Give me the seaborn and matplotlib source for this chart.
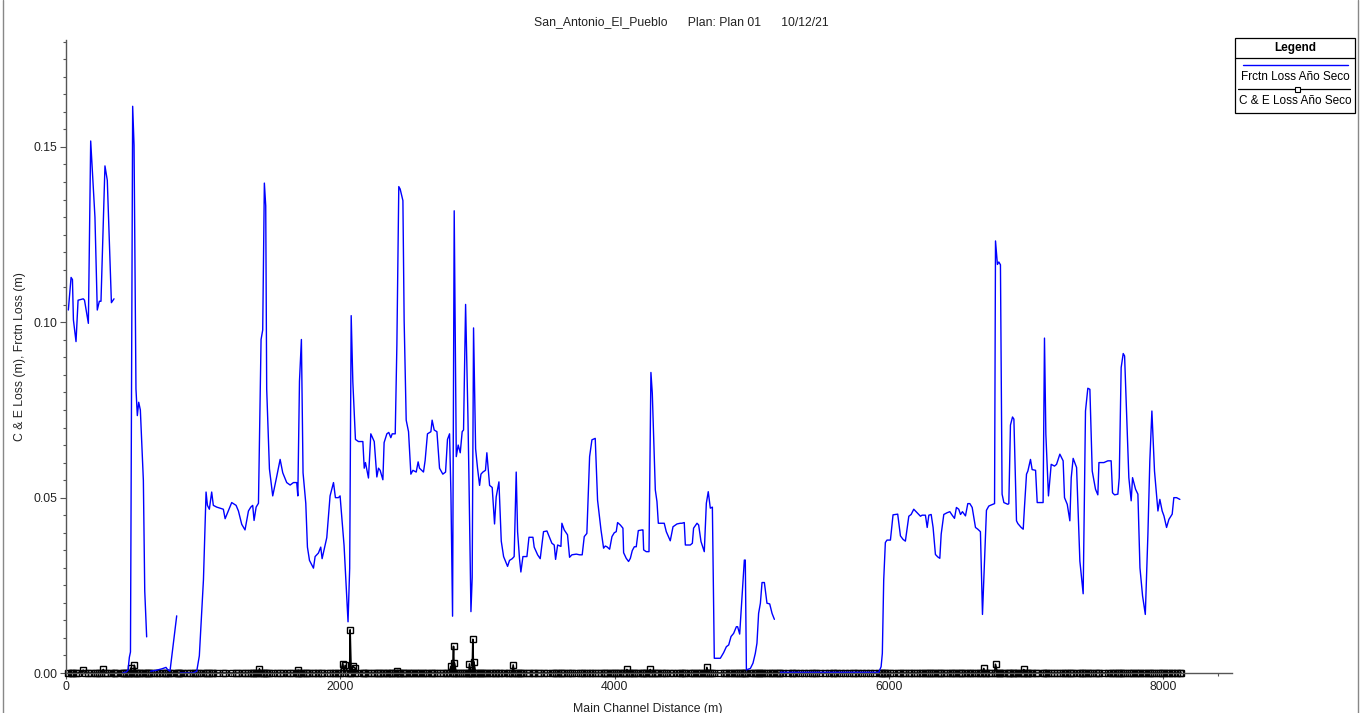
import numpy as np
import pandas as pd
import seaborn as sns
import matplotlib.pyplot as plt
from matplotlib.lines import Line2D
from matplotlib.patches import Rectangle
from matplotlib.ticker import MultipleLocator, FormatStrFormatter

# HEC-RAS style profile plot: friction loss and contraction/expansion loss
# along the main channel (San_Antonio_El_Pueblo, Plan 01)

sns.set_style("ticks")
plt.rcParams["font.family"] = ["Liberation Sans", "DejaVu Sans"]

TITLE = "San_Antonio_El_Pueblo      Plan: Plan 01      10/12/21"
X_LABEL = "Main Channel Distance (m)"
Y_LABEL = "C & E Loss (m), Frctn Loss (m)"
LEGEND_TITLE = "Legend"
FRCTN_NAME = "Frctn Loss Año Seco"
CE_NAME = "C & E Loss Año Seco"

# ---- Frctn Loss (the line has gaps between segments)
frctn_x_1 = [17, 37, 47, 54, 73, 88, 126, 135, 163, 180, 211, 228, 243, 255, 284, 301, 331, 350]
frctn_y_1 = [0.1035, 0.1128, 0.1122, 0.1007, 0.0945, 0.1063, 0.1067, 0.1063, 0.0997, 0.1517,
             0.1300, 0.1035, 0.1060, 0.1060, 0.1446, 0.1405, 0.1056, 0.1067]

frctn_x_2 = [413, 440, 452, 462, 470, 486, 496, 510, 520, 530, 542, 564, 574, 588]
frctn_y_2 = [0.0, 0.0003, 0.0008, 0.0045, 0.0060, 0.1616, 0.1505, 0.0810, 0.0734, 0.0772,
             0.0750, 0.0549, 0.0234, 0.0103]

frctn_x_3 = [617, 660, 700, 729, 740, 758, 807]
frctn_y_3 = [0.0005, 0.0008, 0.0012, 0.0016, 0.0010, 0.0005, 0.0163]

frctn_x_4 = [832, 880, 925, 953, 972, 1002, 1021, 1031, 1045, 1062, 1074, 1099, 1147, 1160, 1208,
             1240, 1257, 1281, 1305, 1330, 1347, 1361, 1371, 1386, 1403, 1422, 1434, 1446, 1456,
             1463, 1483, 1507, 1536, 1561, 1580, 1609, 1634, 1658, 1682, 1690, 1702, 1716, 1728,
             1748, 1760, 1775, 1804, 1816, 1840, 1857, 1867, 1901, 1925, 1950, 1964, 1986, 1998,
             2027, 2056, 2068, 2079, 2091, 2110, 2132, 2164, 2174, 2183, 2205, 2222, 2247, 2266,
             2278, 2290, 2310, 2319, 2339, 2353, 2368, 2378, 2400, 2412, 2426, 2436, 2456, 2465,
             2480, 2497, 2514, 2529, 2553, 2567, 2577, 2606, 2618, 2635, 2660, 2669, 2684, 2704,
             2723, 2747, 2767, 2781, 2796, 2806, 2818, 2830, 2845, 2859, 2874, 2888, 2898, 2913,
             2930, 2937, 2952, 2961, 2971, 2986, 3000, 3015, 3025, 3039, 3058, 3068, 3088, 3107,
             3124, 3136, 3156, 3173, 3190, 3219, 3233, 3253, 3267, 3282, 3292, 3306, 3316, 3331,
             3360, 3375, 3404, 3413, 3438, 3457, 3481, 3506, 3542, 3559, 3569, 3584, 3608, 3615,
             3632, 3656, 3671, 3688, 3720, 3744, 3763, 3778, 3797, 3817, 3834, 3858, 3875, 3900,
             3919, 3931, 3943, 3963, 3980, 3997, 4011, 4021, 4041, 4060, 4065, 4084, 4101, 4114,
             4128, 4143, 4157, 4172, 4199, 4206, 4211, 4230, 4250, 4264, 4274, 4296, 4308, 4318,
             4344, 4361, 4376, 4405, 4425, 4454, 4478, 4490, 4507, 4515, 4551, 4566, 4575, 4600,
             4612, 4629, 4653, 4668, 4682, 4697, 4712, 4726, 4770, 4794, 4814, 4831, 4848, 4867,
             4887, 4896, 4911, 4928, 4945, 4952, 4960, 4989, 5008, 5025, 5037, 5049, 5062, 5074,
             5091, 5110, 5130, 5147, 5164]
frctn_y_4 = [0.0, 0.0, 0.0, 0.0005, 0.0049, 0.0266, 0.0516, 0.0478, 0.0467, 0.0516, 0.0478, 0.0473,
             0.0467, 0.0440, 0.0486, 0.0478, 0.0462, 0.0424, 0.0408, 0.0462, 0.0473, 0.0478,
             0.0435, 0.0473, 0.0484, 0.0951, 0.0978, 0.1397, 0.1332, 0.0810, 0.0582, 0.0505,
             0.0560, 0.0609, 0.0571, 0.0543, 0.0536, 0.0543, 0.0543, 0.0505, 0.0832, 0.0951,
             0.0571, 0.0484, 0.0359, 0.0321, 0.0299, 0.0332, 0.0342, 0.0359, 0.0326, 0.0386,
             0.0505, 0.0543, 0.0500, 0.0500, 0.0505, 0.0364, 0.0146, 0.0299, 0.1019, 0.0830,
             0.0666, 0.0660, 0.0660, 0.0584, 0.0600, 0.0556, 0.0682, 0.0660, 0.0559, 0.0584,
             0.0578, 0.0551, 0.0657, 0.0682, 0.0686, 0.0671, 0.0682, 0.0682, 0.0934, 0.1387,
             0.1380, 0.1347, 0.1005, 0.0721, 0.0688, 0.0567, 0.0578, 0.0573, 0.0602, 0.0584,
             0.0573, 0.0606, 0.0682, 0.0688, 0.0721, 0.0693, 0.0688, 0.0584, 0.0567, 0.0573,
             0.0666, 0.0682, 0.0513, 0.0162, 0.1318, 0.0617, 0.0650, 0.0628, 0.0688, 0.0693,
             0.1051, 0.0732, 0.0567, 0.0175, 0.0272, 0.0984, 0.0639, 0.0584, 0.0535, 0.0567,
             0.0573, 0.0578, 0.0628, 0.0535, 0.0529, 0.0425, 0.0502, 0.0545, 0.0376, 0.0332,
             0.0304, 0.0321, 0.0326, 0.0332, 0.0573, 0.0403, 0.0326, 0.0288, 0.0332, 0.0332,
             0.0387, 0.0387, 0.0359, 0.0337, 0.0326, 0.0403, 0.0405, 0.0370, 0.0365, 0.0324,
             0.0365, 0.0361, 0.0427, 0.0408, 0.0394, 0.0330, 0.0337, 0.0339, 0.0337, 0.0337,
             0.0389, 0.0398, 0.0617, 0.0665, 0.0669, 0.0493, 0.0408, 0.0356, 0.0362, 0.0360,
             0.0353, 0.0389, 0.0400, 0.0403, 0.0429, 0.0422, 0.0413, 0.0343, 0.0327, 0.0318,
             0.0327, 0.0349, 0.0360, 0.0360, 0.0406, 0.0408, 0.0408, 0.0351, 0.0346, 0.0346,
             0.0857, 0.0798, 0.0522, 0.0489, 0.0427, 0.0427, 0.0427, 0.0403, 0.0377, 0.0417,
             0.0425, 0.0427, 0.0427, 0.0429, 0.0365, 0.0365, 0.0370, 0.0413, 0.0427, 0.0422,
             0.0375, 0.0346, 0.0484, 0.0517, 0.0470, 0.0473, 0.0042, 0.0042, 0.0058, 0.0075,
             0.0080, 0.0104, 0.0113, 0.0132, 0.0132, 0.0111, 0.0218, 0.0322, 0.0322, 0.0009,
             0.0013, 0.0028, 0.0056, 0.0085, 0.0170, 0.0199, 0.0258, 0.0258, 0.0199, 0.0197,
             0.0170, 0.0153]

frctn_x_5 = [5207, 5300, 5450, 5600, 5750, 5925, 5942, 5951, 5961, 5973, 5985, 6010, 6029, 6063,
             6083, 6102, 6119, 6144, 6161, 6180, 6205, 6229, 6241, 6265, 6278, 6290, 6307, 6321,
             6338, 6355, 6370, 6380, 6399, 6423, 6443, 6460, 6477, 6491, 6508, 6521, 6535, 6557,
             6574, 6589, 6606, 6630, 6647, 6666, 6681, 6696, 6710, 6727, 6744, 6769, 6776, 6790,
             6800, 6812, 6824, 6837, 6866, 6873, 6885, 6900, 6910, 6929, 6939, 6963, 6978, 6987,
             7002, 7012, 7031, 7043, 7068, 7080, 7123, 7133, 7143, 7162, 7182, 7206, 7221, 7245,
             7269, 7279, 7299, 7318, 7328, 7342, 7367, 7391, 7408, 7415, 7432, 7449, 7464, 7481,
             7505, 7522, 7530, 7566, 7595, 7619, 7629, 7644, 7668, 7678, 7692, 7707, 7717, 7748,
             7765, 7775, 7797, 7814, 7829, 7848, 7868, 7887, 7901, 7916, 7935, 7960, 7974, 7991,
             8004, 8023, 8040, 8064, 8076, 8096, 8120]
frctn_y_5 = [0.0002, 0.0002, 0.0002, 0.0002, 0.0002, 0.0002, 0.0018, 0.0056, 0.0265, 0.0372,
             0.0379, 0.0379, 0.0451, 0.0453, 0.0391, 0.0381, 0.0376, 0.0447, 0.0452, 0.0467,
             0.0457, 0.0447, 0.0450, 0.0450, 0.0415, 0.0450, 0.0452, 0.0415, 0.0338, 0.0331,
             0.0327, 0.0396, 0.0452, 0.0457, 0.0460, 0.0450, 0.0441, 0.0472, 0.0467, 0.0452,
             0.0460, 0.0448, 0.0483, 0.0483, 0.0472, 0.0415, 0.0410, 0.0403, 0.0167, 0.0319,
             0.0464, 0.0476, 0.0479, 0.0483, 0.1232, 0.1165, 0.1172, 0.1164, 0.0510, 0.0486,
             0.0481, 0.0483, 0.0707, 0.0730, 0.0724, 0.0434, 0.0426, 0.0415, 0.0410, 0.0472,
             0.0567, 0.0576, 0.0609, 0.0580, 0.0578, 0.0486, 0.0486, 0.0955, 0.0681, 0.0505,
             0.0595, 0.0590, 0.0595, 0.0624, 0.0605, 0.0500, 0.0481, 0.0434, 0.0557, 0.0612,
             0.0586, 0.0319, 0.0253, 0.0226, 0.0747, 0.0812, 0.0809, 0.0576, 0.0524, 0.0508,
             0.0600, 0.0600, 0.0605, 0.0605, 0.0514, 0.0508, 0.0510, 0.0557, 0.0871, 0.0911,
             0.0904, 0.0557, 0.0491, 0.0557, 0.0524, 0.0510, 0.0300, 0.0220, 0.0167, 0.0396,
             0.0605, 0.0747, 0.0576, 0.0462, 0.0495, 0.0462, 0.0448, 0.0415, 0.0438, 0.0453,
             0.0500, 0.0500, 0.0495]

# ---- C & E Loss: ~0 at every cross section, a few small peaks
ce_extra_station = [360, 366, 406, 425, 595, 605, 640, 680, 720, 780, 815, 825, 855, 905, 940,
                    5180, 5195, 5230, 5260, 5290, 5320, 5350, 5380, 5410, 5440, 5470, 5500, 5530,
                    5560, 5590, 5620, 5650, 5680, 5710, 5740, 5770, 5800, 5830, 5860, 5890, 8130]
ce_peak_station = [126, 272, 472, 498, 1410, 1692, 2018, 2035, 2071, 2091, 2108, 2414, 2806,
                   2825, 2832, 2941, 2966, 2973, 3260, 4089, 4259, 4672, 6691, 6776, 6982]
ce_peak_loss = [0.0008, 0.0010, 0.0014, 0.0022, 0.0012, 0.0008, 0.0026, 0.0022, 0.0123, 0.0019,
                0.0014, 0.0007, 0.0019, 0.0076, 0.0029, 0.0026, 0.0096, 0.0032, 0.0023, 0.0010,
                0.0010, 0.0016, 0.0013, 0.0025, 0.0010]


def main():
    segments = [
        (frctn_x_1, frctn_y_1),
        (frctn_x_2, frctn_y_2),
        (frctn_x_3, frctn_y_3),
        (frctn_x_4, frctn_y_4),
        (frctn_x_5, frctn_y_5),
    ]
    frames = []
    for i, (sx, sy) in enumerate(segments):
        frames.append(pd.DataFrame({"station": sx, "loss": sy, "seg": i}))
    frctn_df = pd.concat(frames, ignore_index=True)

    peaks = dict(zip(ce_peak_station, ce_peak_loss))
    stations = sorted(set(frctn_df["station"].tolist() + ce_extra_station + ce_peak_station))
    ce_df = pd.DataFrame({
        "station": stations,
        "loss": [peaks.get(s, 0.0) for s in stations],
    })

    W, H = 1364, 713
    fig = plt.figure(figsize=(W / 100, H / 100), dpi=100)
    ax = fig.add_axes([66 / W, 1 - 673 / H, (1232 - 66) / W, (673 - 40) / H])

    sns.lineplot(
        data=ce_df, x="station", y="loss", ax=ax,
        color="black", linewidth=1.2, marker="s", markersize=4.3,
        markerfacecolor="none", markeredgecolor="black", markeredgewidth=1.0,
        estimator=None, sort=False, legend=False,
    )
    sns.lineplot(
        data=frctn_df, x="station", y="loss", units="seg", ax=ax,
        color="#0000FF", linewidth=1.0,
        estimator=None, sort=False, legend=False,
    )
    for ln in ax.lines:
        ln.set_clip_on(False)

    ax.set_xlim(0, 8500)
    ax.set_ylim(0, 0.1805)
    ax.xaxis.set_major_locator(MultipleLocator(2000))
    ax.xaxis.set_minor_locator(MultipleLocator(400))
    ax.yaxis.set_major_locator(MultipleLocator(0.05))
    ax.yaxis.set_minor_locator(MultipleLocator(0.005))
    ax.yaxis.set_major_formatter(FormatStrFormatter("%.2f"))
    ax.xaxis.set_major_formatter(FormatStrFormatter("%d"))

    for side in ["top", "right"]:
        ax.spines[side].set_visible(False)
    for side in ["left", "bottom"]:
        ax.spines[side].set_color("#555555")
        ax.spines[side].set_linewidth(1.0)

    ax.tick_params(which="major", direction="out", length=4, width=0.8, color="#555555",
                   labelsize=8.8, labelcolor="#222222", pad=2)
    ax.tick_params(which="minor", direction="out", length=2.5, width=0.8, color="#555555")

    ax.set_xlabel(X_LABEL, fontsize=8.8, color="#222222")
    ax.xaxis.set_label_coords(0.499, -0.047)
    ax.set_ylabel(Y_LABEL, fontsize=8.8, color="#222222", va="center")
    ax.yaxis.set_label_coords(-46 / 1166, 0.5)

    fig.text(681 / W, 1 - 22 / H, TITLE, ha="center", va="center", fontsize=8.8, color="#222222")

    # legend box drawn the way the original program lays it out
    fx = lambda px: px / W
    fy = lambda py: 1 - py / H
    fig.add_artist(Rectangle((fx(1235), fy(113)), 120 / W, 75 / H, transform=fig.transFigure,
                             facecolor="white", edgecolor="black", linewidth=0.9))
    fig.add_artist(Line2D([fx(1235), fx(1355)], [fy(57.5)] * 2, transform=fig.transFigure,
                          color="black", linewidth=0.9))
    fig.text(fx(1295), fy(48), LEGEND_TITLE, ha="center", va="center", fontsize=8.5,
             fontweight="bold", color="black")
    fig.add_artist(Line2D([fx(1243), fx(1348)], [fy(64.5)] * 2, transform=fig.transFigure,
                          color="#0000FF", linewidth=1.0))
    fig.text(fx(1295), fy(77), FRCTN_NAME, ha="center", va="center", fontsize=8.5, color="black")
    fig.add_artist(Line2D([fx(1238), fx(1350)], [fy(88.5)] * 2, transform=fig.transFigure,
                          color="black", linewidth=0.9))
    fig.add_artist(Line2D([fx(1297)], [fy(88.5)], transform=fig.transFigure, marker="s",
                          markersize=3.6, markerfacecolor="white", markeredgecolor="black",
                          markeredgewidth=0.8, linestyle="none"))
    fig.text(fx(1295), fy(101), CE_NAME, ha="center", va="center", fontsize=8.5, color="black")

    # outer frame lines at the picture's left and right edges
    for px in (2.5, 1358):
        fig.add_artist(Line2D([fx(px)] * 2, [0, 1], transform=fig.transFigure,
                              color="#888888", linewidth=1.0))

    fig.savefig("out.png", dpi=100)
    plt.close(fig)


if __name__ == "__main__":
    main()
